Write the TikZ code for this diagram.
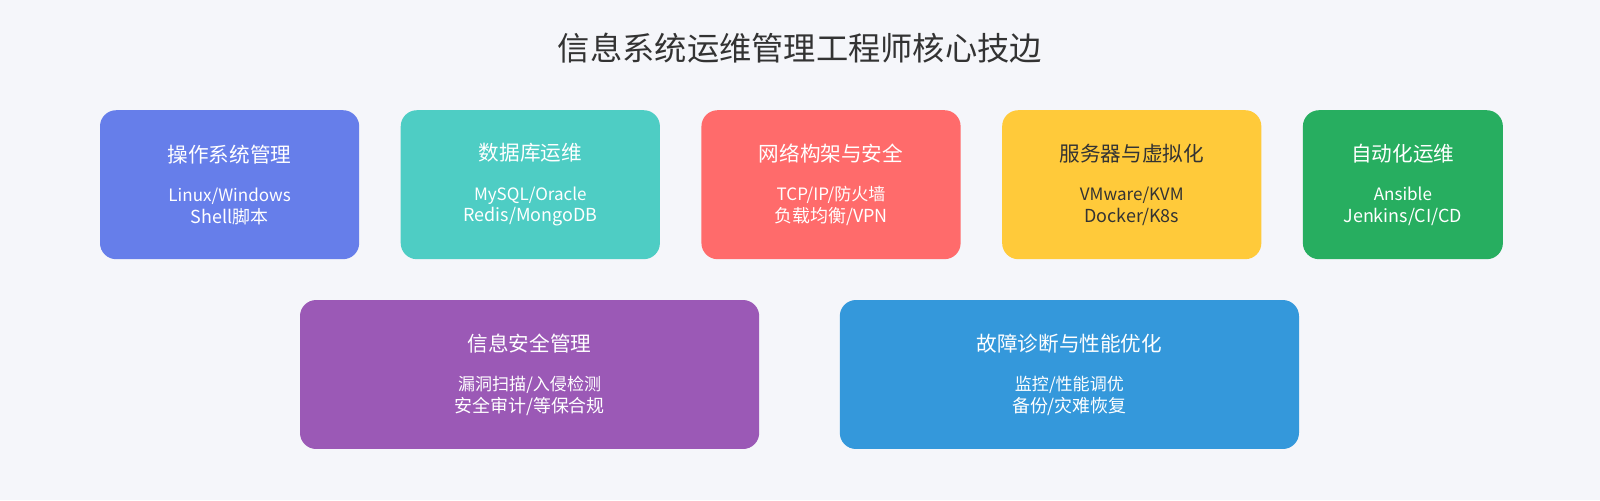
\documentclass[tikz,border=0pt]{standalone}
\usepackage{fontspec}
\setmainfont{Noto Sans CJK SC}
\usetikzlibrary{positioning}
\definecolor{bgc}{HTML}{F5F6FA}
\definecolor{cOS}{HTML}{667EEA}
\definecolor{cDB}{HTML}{4ECDC4}
\definecolor{cNet}{HTML}{FF6B6B}
\definecolor{cSrv}{HTML}{FFCA3A}
\definecolor{cAuto}{HTML}{27AE60}
\definecolor{cSec}{HTML}{9B59B6}
\definecolor{cDiag}{HTML}{3498DB}
\tikzset{
    skill/.style={
        rounded corners=9pt, minimum height=2.92cm,
        align=center, text=white, inner sep=0pt
    }
}
\newcommand{\skilltext}[3]{\fontsize{11.5}{14}\selectfont #1\\[10pt]\fontsize{9.5}{17}\selectfont #2\\#3}

\begin{document}
\begin{tikzpicture}
\fill[bgc] (0,0) rectangle (31.36,-9.8);
\useasboundingbox (0,0) rectangle (31.36,-9.8);

% Title
\node[font=\fontsize{18}{22}\selectfont, text=black!80] (title) at (15.68,-0.94) {信息系统运维管理工程师核心技边};

% First row
\node[skill, fill=cOS, minimum width=5.08cm] (os) at (4.5,-3.62)
    {\skilltext{操作系统管理}{Linux/Windows}{Shell脚本}};
\node[skill, fill=cDB, minimum width=5.08cm, right=0.8cm of os] (db)
    {\skilltext{数据库运维}{MySQL/Oracle}{Redis/MongoDB}};
\node[skill, fill=cNet, minimum width=5.08cm, right=0.8cm of db] (net)
    {\skilltext{网络构架与安全}{TCP/IP/防火墙}{负载均衡/VPN}};
\node[skill, fill=cSrv, text=black!80, minimum width=5.08cm, right=0.8cm of net] (srv)
    {\skilltext{服务器与虚拟化}{VMware/KVM}{Docker/K8s}};
\node[skill, fill=cAuto, minimum width=3.92cm, right=0.8cm of srv] (auto)
    {\skilltext{自动化运维}{Ansible}{Jenkins/CI/CD}};

% Second row
\node[skill, fill=cSec, minimum width=9.0cm] (sec) at (10.38,-7.34)
    {\skilltext{信息安全管理}{漏洞扫描/入侵检测}{安全审计/等保合规}};
\node[skill, fill=cDiag, minimum width=9.0cm] (diag) at (20.96,-7.34)
    {\skilltext{故障诊断与性能优化}{监控/性能调优}{备份/灾难恢复}};

\end{tikzpicture}
\end{document}
